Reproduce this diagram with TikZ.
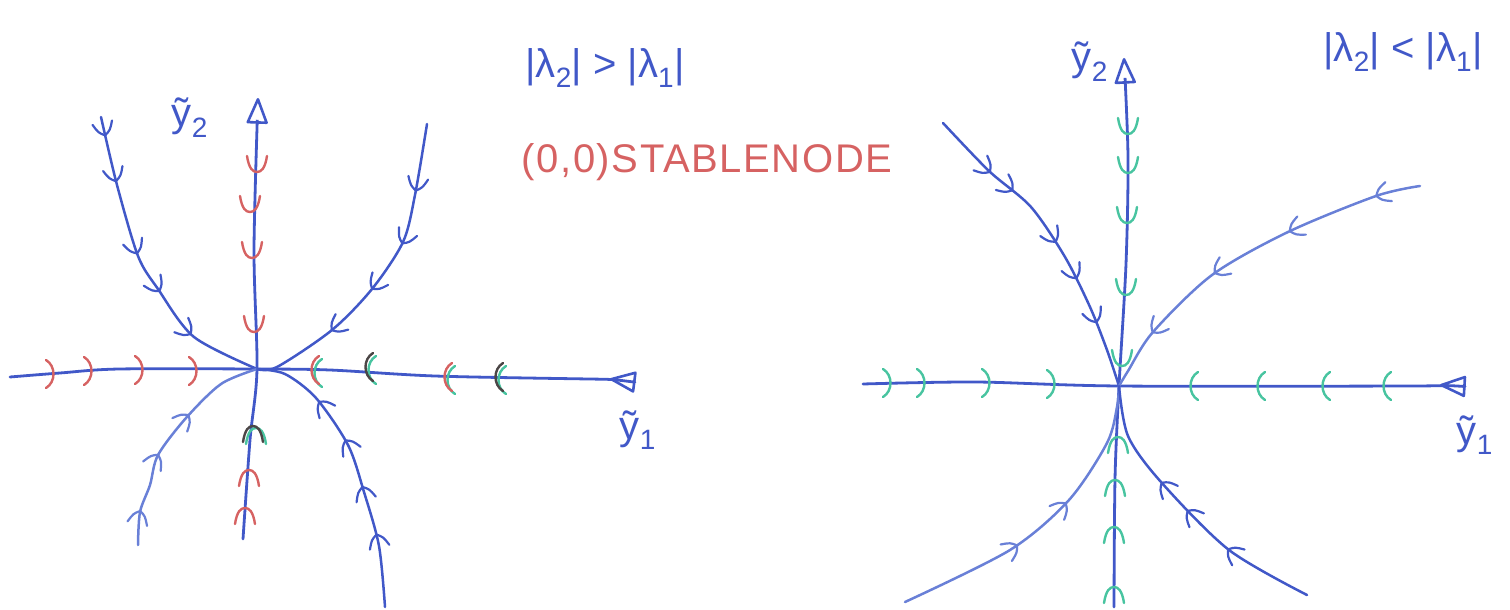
\documentclass[tikz,border=0pt]{standalone}
\usepackage{fontspec}
\setmainfont{Liberation Sans}
\usetikzlibrary{arrows.meta,decorations.markings}
\definecolor{ink}{RGB}{65,88,200}
\definecolor{lightink}{RGB}{105,128,215}
\definecolor{redink}{RGB}{214,98,98}
\definecolor{greenink}{RGB}{72,196,160}
\definecolor{darkink}{RGB}{75,70,70}
\newcommand\chevmark{\draw[line width=2.2pt,line cap=round] (-13pt,10pt) .. controls (-4pt,6pt) .. (0pt,0pt) .. controls (-4pt,-6pt) .. (-13pt,-10pt);}
\tikzset{
  axmark/.pic={\draw[line width=2.4pt,line cap=round] (-9pt,14pt) .. controls (1pt,8pt) and (1pt,-8pt) .. (-9pt,-14pt);},
  vmark/.pic={\draw[line width=2.4pt,line cap=round] (-16pt,10pt) .. controls (-3pt,8pt) and (0pt,4pt) .. (0pt,0pt) .. controls (0pt,-4pt) and (-3pt,-8pt) .. (-16pt,-10pt);},
  curve/.style={ink, line width=2.5pt, line cap=round, line join=round},
  axisline/.style={ink, line width=2.8pt, line cap=round, -{Triangle[open,round,length=28pt,width=22pt,line width=2.6pt]}},
  lbl/.style={ink, font=\fontsize{40}{44}\selectfont, inner sep=0pt},
  title/.style={ink, font=\fontsize{40}{44}\selectfont, inner sep=0pt},
}
\begin{document}
\begin{tikzpicture}[x=1pt,y=-1pt]
\useasboundingbox (0,0) rectangle (1510,610);
% ---------------- left portrait ----------------
\coordinate (O1) at (257,369);
\draw[axisline] plot[smooth] coordinates {(10,377) (60,373) (119,369) (O1) (330,370) (435,376) (589,379) (610,379)};
\draw[axisline] plot[smooth] coordinates {(243,539) (250,440) (O1) (254,250) (258,98)};
% trajectories
\draw[curve, postaction={decorate, decoration={markings,
   mark=at position 0.06 with {\chevmark}, mark=at position 0.21 with {\chevmark},
   mark=at position 0.45 with {\chevmark}, mark=at position 0.59 with {\chevmark},
   mark=at position 0.76 with {\chevmark}}}]
  plot[smooth] coordinates {(101,117) (117,185) (138,256) (158,289) (194,337) (O1)};
\draw[curve, postaction={decorate, decoration={markings,
   mark=at position 0.21 with {\chevmark}, mark=at position 0.38 with {\chevmark},
   mark=at position 0.55 with {\chevmark}, mark=at position 0.73 with {\chevmark}}}]
  plot[smooth] coordinates {(427,124) (415,195) (403,242) (372,289) (332,330) (277,367) (O1)};
\draw[curve, lightink, postaction={decorate, decoration={markings,
   mark=at position 0.15 with {\chevmark}, mark=at position 0.41 with {\chevmark},
   mark=at position 0.63 with {\chevmark}}}]
  plot[smooth] coordinates {(138,545) (140,512) (150,485) (158,455) (186,418) (221,384) (O1)};
\draw[curve, postaction={decorate, decoration={markings,
   mark=at position 0.25 with {\chevmark}, mark=at position 0.42 with {\chevmark},
   mark=at position 0.59 with {\chevmark}, mark=at position 0.75 with {\chevmark}}}]
  plot[smooth] coordinates {(385,607) (379,546) (364,492) (348,445) (316,398) (285,374) (O1)};
% axis marks (red)
\pic[redink] at (55,374) {axmark};
\pic[redink] at (93,371) {axmark};
\pic[redink] at (144,370) {axmark};
\pic[redink] at (198,371) {axmark};
\pic[greenink, rotate=180] at (313,373) {axmark};
\pic[redink, rotate=180] at (310,370) {axmark};
\pic[greenink, rotate=180] at (367,370) {axmark};
\pic[darkink, rotate=180] at (364,367) {axmark};
\pic[greenink, rotate=180] at (446,380) {axmark};
\pic[redink, rotate=180] at (443,377) {axmark};
\pic[greenink, rotate=180] at (497,380) {axmark};
\pic[darkink, rotate=180] at (494,377) {axmark};
\pic[redink, rotate=-90] at (257,172) {vmark};
\pic[redink, rotate=-90] at (250,212) {vmark};
\pic[redink, rotate=-90] at (252,258) {vmark};
\pic[redink, rotate=-90] at (254,332) {vmark};
\pic[greenink, rotate=90] at (256,428) {vmark};
\pic[darkink, rotate=90] at (253,426) {vmark};
\pic[redink, rotate=90] at (249,470) {vmark};
\pic[redink, rotate=90] at (245,508) {vmark};
% labels
\node[lbl] (y2a) at (190,118) {ỹ\textsubscript{2}};
\node[lbl] (y1a) at (638,430) {ỹ\textsubscript{1}};
\node[title] (c1) at (605,68) {|λ\textsubscript{2}| > |λ\textsubscript{1}|};
\node[redink, font=\fontsize{40}{44}\selectfont\addfontfeatures{LetterSpace=4}, inner sep=0pt] (sn) at (707,162) {(0,0)STABLENODE};
% ---------------- right portrait ----------------
\coordinate (O2) at (1119,386);
\draw[axisline] plot[smooth] coordinates {(863,384) (976,382) (O2) (1410,386) (1440,385)};
\draw[axisline] plot[smooth] coordinates {(1114,607) (1115,479) (O2) (1126,264) (1128,157) (1124,58)};
\draw[curve, postaction={decorate, decoration={markings,
   mark=at position 0.21 with {\chevmark}, mark=at position 0.30 with {\chevmark},
   mark=at position 0.51 with {\chevmark}, mark=at position 0.64 with {\chevmark},
   mark=at position 0.79 with {\chevmark}}}]
  plot[smooth] coordinates {(943,123) (989,171) (1031,207) (1065,257) (1090,307) (1107,350) (O2)};
\draw[curve, lightink, postaction={decorate, decoration={markings,
   mark=at position 0.12 with {\chevmark}, mark=at position 0.37 with {\chevmark},
   mark=at position 0.60 with {\chevmark}, mark=at position 0.83 with {\chevmark}}}]
  plot[smooth] coordinates {(1420,186) (1376,196) (1288,232) (1212,275) (1153,332) (1128,371) (O2)};
\draw[curve, lightink, postaction={decorate, decoration={markings,
   mark=at position 0.39 with {\chevmark}, mark=at position 0.59 with {\chevmark}}}]
  plot[smooth] coordinates {(905,602) (1010,550) (1069,500) (1107,443) (1117,407) (O2)};
\draw[curve, postaction={decorate, decoration={markings,
   mark=at position 0.31 with {\chevmark}, mark=at position 0.50 with {\chevmark},
   mark=at position 0.63 with {\chevmark}}}]
  plot[smooth] coordinates {(1307,595) (1229,550) (1161,482) (1128,436) (O2)};
% axis marks (green)
\pic[greenink] at (892,383) {axmark};
\pic[greenink] at (926,383) {axmark};
\pic[greenink] at (991,383) {axmark};
\pic[greenink] at (1056,384) {axmark};
\pic[greenink, rotate=180] at (1189,386) {axmark};
\pic[greenink, rotate=180] at (1256,386) {axmark};
\pic[greenink, rotate=180] at (1321,386) {axmark};
\pic[greenink, rotate=180] at (1382,386) {axmark};
\pic[greenink, rotate=-90] at (1128,134) {vmark};
\pic[greenink, rotate=-90] at (1128,173) {vmark};
\pic[greenink, rotate=-90] at (1127,223) {vmark};
\pic[greenink, rotate=-90] at (1126,295) {vmark};
\pic[greenink, rotate=-90] at (1122,366) {vmark};
\pic[greenink, rotate=90] at (1118,437) {vmark};
\pic[greenink, rotate=90] at (1115,480) {vmark};
\pic[greenink, rotate=90] at (1114,527) {vmark};
\pic[greenink, rotate=90] at (1114,587) {vmark};
% labels
\node[lbl] (y2b) at (1090,62) {ỹ\textsubscript{2}};
\node[lbl] (y1b) at (1475,435) {ỹ\textsubscript{1}};
\node[title] (c2) at (1403,52) {|λ\textsubscript{2}| < |λ\textsubscript{1}|};
\end{tikzpicture}
\end{document}
